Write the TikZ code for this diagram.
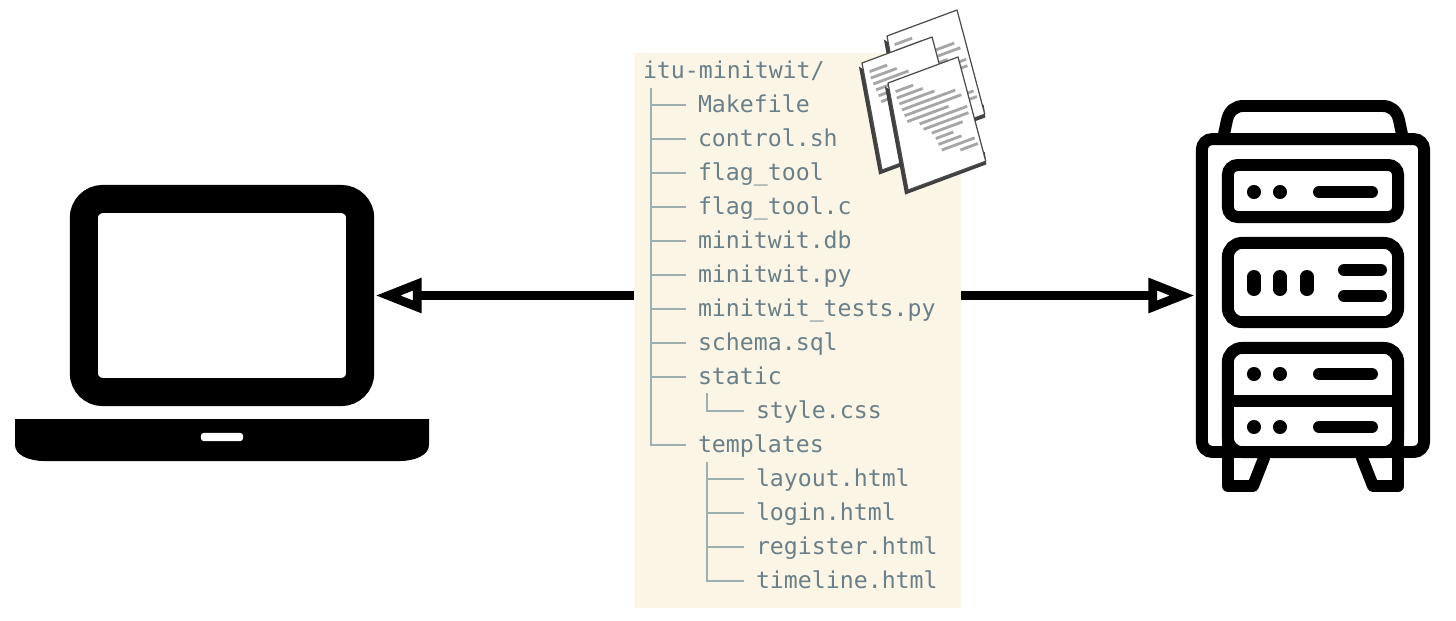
\documentclass[tikz,border=0pt]{standalone}
\usepackage{fontspec}
\setmonofont{DejaVu Sans Mono}
\usetikzlibrary{arrows.meta}
\definecolor{paper}{HTML}{FBF5E6}
\definecolor{listing}{HTML}{6A8089}
\definecolor{branch}{HTML}{9EAFB0}
\tikzset{
  fileitem/.style={anchor=base west,inner sep=0pt,outer sep=0pt,text height=6.5pt,text depth=2pt,
    text=listing,font=\fontsize{6.6}{8}\ttfamily},
  treeline/.style={draw=branch,line width=0.62pt,shorten >=3.4pt},
  link/.style={line width=2.56pt,shorten >=0.3pt,
    -{Triangle[fill=white,length=13.2pt,width=9.4pt,line width=2.5pt]}},
  icon/.style={line width=3.4pt,line cap=round,line join=round},
  rackunit/.style={draw,line width=3.4pt,minimum width=48.4pt,rounded corners=2.8pt,inner sep=0pt,outer sep=0pt},
}
\newcommand{\slotrow}[1]{%
  \fill (1254,#1) circle (2pt) (1280,#1) circle (2pt);
  \draw[icon] (1319,#1) -- (1372,#1);}
\begin{document}
\begin{tikzpicture}[x=0.01cm,y=-0.01cm]
\useasboundingbox (0,0) rectangle (1456,620);
% listing
\node[fill=paper,minimum width=93pt,minimum height=157.9pt,inner sep=0pt,outer sep=0pt] (listing) at (797.5,330.5) {};
\node[fileitem] (root) at (643,78.7) {itu-minitwit/};
\foreach \name/\label/\col/\row in {makefile/Makefile/698/1,controlsh/control.sh/698/2,flagtool/flag\_tool/698/3,
    flagtoolc/flag\_tool.c/698/4,minitwitdb/minitwit.db/698/5,minitwitpy/minitwit.py/698/6,
    minitwittests/minitwit\_tests.py/698/7,schema/schema.sql/698/8,static/static/698/9,stylecss/style.css/756/10,
    templates/templates/698/11,layout/layout.html/756/12,login/login.html/756/13,register/register.html/756/14,
    timeline/timeline.html/756/15}
  \node[fileitem] (\name) at (\col,78.7+34*\row) {\label};
\coordinate (trunkA) at (651,88);
\coordinate (trunkB) at (707,393);
\coordinate (trunkC) at (707,462);
\draw[treeline] (trunkA) |- (templates.west);
\draw[treeline] (trunkB) |- (stylecss.west);
\draw[treeline] (trunkC) |- (timeline.west);
\foreach \name in {makefile,controlsh,flagtool,flagtoolc,minitwitdb,minitwitpy,minitwittests,schema,static}
  \draw[treeline] (trunkA |- \name.west) -- (\name.west);
\foreach \name in {layout,login,register}
  \draw[treeline] (trunkC |- \name.west) -- (\name.west);
% sheets of paper
\foreach \ox/\oy in {887/36,862/63,888/83} {
  \begin{scope}[shift={(\ox,\oy)},x={(0.7cm,0.26cm)},y={(0.2cm,-1.07cm)}]
    \fill[black!75] (-0.05,0.02) -- (-0.05,1.03) -- (1.11,1.03) -- (1.12,0.92) -- cycle;
    \draw[draw=black!70,fill=white,line width=0.35pt,line join=round] (0,0) -- (1,0) -- (1.11,1) -- (0,1) -- cycle;
    \foreach \ly/\xa/\xb in {0.10/0.08/0.33,0.16/0.08/0.45,0.22/0.10/0.60,0.28/0.12/0.88,0.34/0.14/0.95,
        0.40/0.16/0.75,0.46/0.32/1.00,0.52/0.36/1.00,0.58/0.46/0.90,0.64/0.50/0.75,0.70/0.52/0.85,
        0.76/0.55/1.02,0.82/0.80/1.05}
      \draw[black!35,line width=0.8pt] (\xa,\ly) -- (\xb,\ly);
  \end{scope}
}
% laptop
\node[draw,line width=7.97pt,minimum width=78.6pt,minimum height=54.9pt,rounded corners=5.4pt,
  inner sep=0pt,outer sep=auto] (screen) at (222,295.5) {};
\fill (15,419) -- (429,419) -- (429,445) .. controls (429,455) and (415,461) .. (400,461)
  -- (44,461) .. controls (29,461) and (15,455) .. (15,445) -- cycle;
\node[fill=white,minimum width=12pt,minimum height=2.3pt,rounded corners=0.8pt,inner sep=0pt] (slot) at (222,437) {};
% server
\node[draw,line width=3.4pt,minimum width=63.2pt,minimum height=89pt,rounded corners=3pt,
  inner sep=0pt,outer sep=auto] (server) at (1313,295.5) {};
\draw[icon] (1223,139) -- (1227,120) .. controls (1229,111) and (1235,106) .. (1243,106) -- (1383,106)
  .. controls (1391,106) and (1397,111) .. (1399,120) -- (1403,139);
\node[rackunit,minimum height=14.8pt] (unita) at (1313,191) {};
\node[rackunit,minimum height=22.5pt,rounded corners=4pt] (unitb) at (1313,282.5) {};
\node[rackunit,minimum height=29.6pt,rounded corners=4pt] (unitc) at (1313,400) {};
\draw[icon] (unitc.west) ++(0,1) -- ++(170,0);
\draw[icon] (1228,420) -- (1228,486) -- (1253,486) -- (1264,458);
\draw[icon] (1398,420) -- (1398,486) -- (1373,486) -- (1362,458);
\slotrow{192}
\slotrow{374}
\slotrow{427}
\foreach \px in {1254,1280,1307}
  \draw[icon,line width=3.7pt] (\px,276.5) -- (\px,289.5);
\draw[icon] (1344,270) -- (1381,270);
\draw[icon] (1344,296) -- (1381,296);
% arrows
\draw[link] (listing.west |- screen.east) -- (screen.east);
\draw[link] (listing.east |- server.west) -- (server.west);
\end{tikzpicture}
\end{document}
